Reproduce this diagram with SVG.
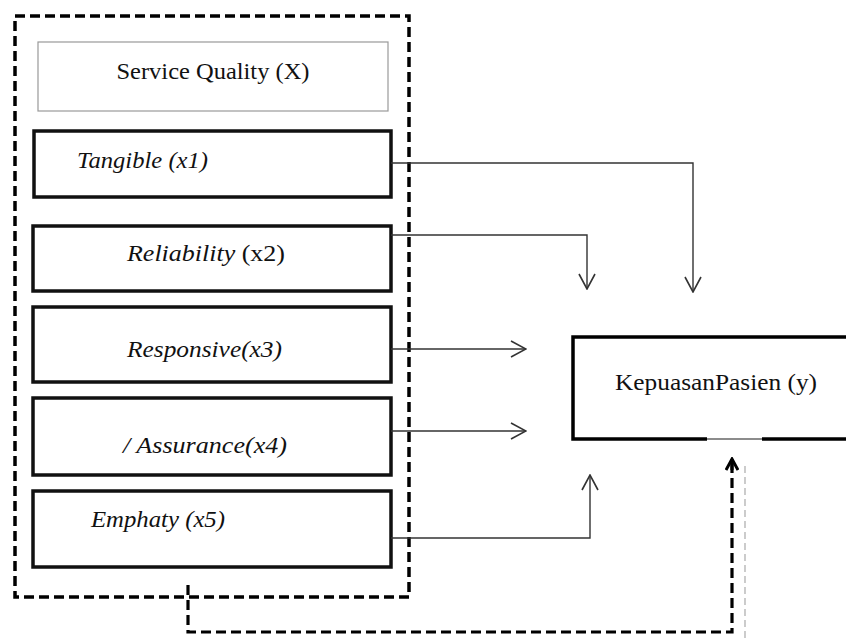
<svg xmlns="http://www.w3.org/2000/svg" width="846" height="640" viewBox="0 0 846 640">
<defs>
<style>
.t{font-family:"Liberation Serif","Times New Roman",serif;font-size:23px;fill:#111}
.i{font-style:italic}
.box{fill:#fff;stroke:#111;stroke-width:3.5}
.thin{fill:#fff;stroke:#999;stroke-width:1.2}
.con{fill:none;stroke:#333;stroke-width:1.4}
.dash{fill:none;stroke:#000;stroke-width:3.5;stroke-dasharray:10 5}
</style>
<marker id="v" viewBox="0 0 18 18" refX="17" refY="9" markerWidth="18" markerHeight="18" markerUnits="userSpaceOnUse" orient="auto">
<path d="M2,1 L17,9 L2,17" fill="none" stroke="#333" stroke-width="1.6"/>
</marker>
<marker id="vb" viewBox="0 0 14 14" refX="12" refY="7" markerWidth="14" markerHeight="14" markerUnits="userSpaceOnUse" orient="auto">
<path d="M1,1 L12,7 L1,13" fill="none" stroke="#000" stroke-width="3"/>
</marker>
</defs>
<rect width="846" height="640" fill="#fff"/>
<g id="outer">
<rect class="dash" x="15" y="16" width="394" height="581"/>
</g>
<g id="sq">
<rect class="thin" x="38" y="42" width="350" height="69"/>
<text class="t" x="213" y="79" text-anchor="middle" textLength="193" lengthAdjust="spacingAndGlyphs">Service Quality (X)</text>
</g>
<g id="x1">
<rect class="box" x="34" y="131" width="357" height="66"/>
<text class="t i" x="77" y="168" textLength="131" lengthAdjust="spacingAndGlyphs">Tangible (x1)</text>
</g>
<g id="x2">
<rect class="box" x="33" y="226" width="358" height="65"/>
<text class="t" x="127" y="261" textLength="158" lengthAdjust="spacingAndGlyphs"><tspan class="i">Reliability</tspan> (x2)</text>
</g>
<g id="x3">
<rect class="box" x="33" y="307" width="358" height="75"/>
<text class="t i" x="127" y="357" textLength="155" lengthAdjust="spacingAndGlyphs">Responsive(x3)</text>
</g>
<g id="x4">
<rect class="box" x="33" y="398" width="358" height="77"/>
<text class="t i" x="123" y="453" textLength="164" lengthAdjust="spacingAndGlyphs">/ Assurance(x4)</text>
</g>
<g id="x5">
<rect class="box" x="33" y="491" width="358" height="76"/>
<text class="t i" x="91" y="527" textLength="134" lengthAdjust="spacingAndGlyphs">Emphaty (x5)</text>
</g>
<g id="y">
<rect fill="#fff" stroke="none" x="572" y="336" width="280" height="104"/>
<path d="M852,337 H573 V439 H707" fill="none" stroke="#000" stroke-width="3.5"/>
<path d="M707,439 H762" fill="none" stroke="#666" stroke-width="1.3"/>
<path d="M762,439 H852" fill="none" stroke="#000" stroke-width="3.5"/>
<text class="t" x="615" y="390" textLength="202" lengthAdjust="spacingAndGlyphs">KepuasanPasien (y)</text>
</g>
<g id="connectors">
<path class="con" d="M391,163 H693 V292" marker-end="url(#v)"/>
<path class="con" d="M391,235 H587 V289" marker-end="url(#v)"/>
<path class="con" d="M391,349 H526" marker-end="url(#v)"/>
<path class="con" d="M391,431 H526" marker-end="url(#v)"/>
<path class="con" d="M391,538 H590 V475" marker-end="url(#v)"/>
<path d="M745,466 V640" fill="none" stroke="#aaa" stroke-width="1.2" stroke-dasharray="7 4"/>
<path class="dash" d="M188,585 V632 H732 V460" style="stroke-width:3.2"/>
<path d="M732,470 V459" fill="none" stroke="#000" stroke-width="3" marker-end="url(#vb)"/>
</g>
</svg>
